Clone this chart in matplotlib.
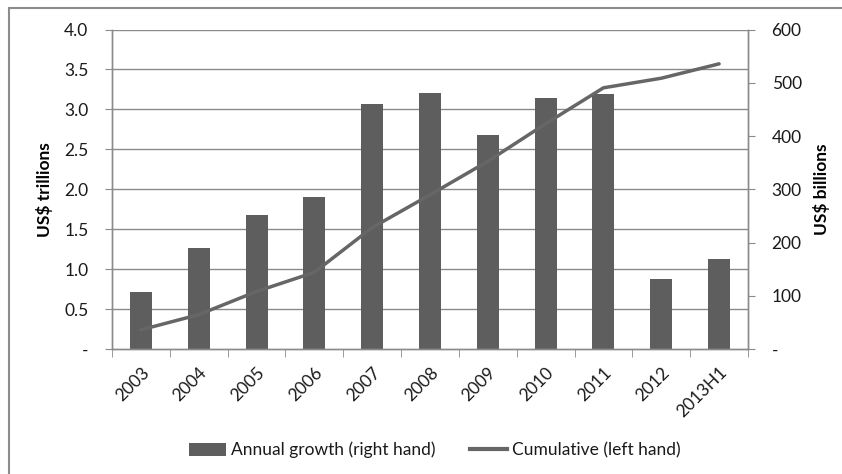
#!/usr/bin/env python3
"""
Annual growth (bars, right axis) and cumulative total (line, left axis).
"""

import matplotlib
matplotlib.use("Agg")
import matplotlib.pyplot as plt
from matplotlib.patches import Patch, Rectangle
from matplotlib.lines import Line2D
from matplotlib.ticker import FuncFormatter
import numpy as np

years = ["2003", "2004", "2005", "2006", "2007", "2008",
         "2009", "2010", "2011", "2012", "2013H1"]
annual_growth_bn = [107, 190, 252, 285, 461, 480, 401, 471, 478, 132, 169]
cumulative_tn = [0.24, 0.43, 0.72, 0.96, 1.52, 1.93, 2.35, 2.82, 3.27, 3.39, 3.57]

left_ticks = [0, 0.5, 1.0, 1.5, 2.0, 2.5, 3.0, 3.5, 4.0]
right_ticks = [0, 100, 200, 300, 400, 500, 600]

BAR_COLOR = "#5e5e5e"
LINE_COLOR = "#666666"
AXIS_GRAY = "#8a8a8a"
TEXT_COLOR = "#1a1a1a"
FONT = "Lato"
FS = 12.5

plt.rcParams["font.family"] = [FONT, "DejaVu Sans"]

fig = plt.figure(figsize=(8.42, 4.74), dpi=100)

# outer chart frame (cut off at right / bottom like the screenshot)
fig.patches.append(Rectangle((9 / 842, -0.05), 1.0, 1 - 8 / 474 + 0.05,
                             transform=fig.transFigure, fill=False,
                             edgecolor="#8c8c8c", linewidth=1.5))

ax = fig.add_axes([112 / 842, 1 - 349 / 474, (748 - 112) / 842, (349 - 29.5) / 474])
ax2 = ax.twinx()

# bars behind, line on top
ax.set_zorder(ax2.get_zorder() + 1)
ax.patch.set_visible(False)

x = np.arange(len(years))
ratio = right_ticks[-1] / left_ticks[-1]

# horizontal grid follows the left axis but sits behind the bars
for v in left_ticks[1:]:
    ax2.axhline(v * ratio, color=AXIS_GRAY, linewidth=1.0, zorder=0)

ax2.bar(x, annual_growth_bn, width=0.38, color=BAR_COLOR, zorder=2)
ax.plot(x, cumulative_tn, color=LINE_COLOR, linewidth=2.5, solid_capstyle="round")

ax.set_xlim(-0.5, len(years) - 0.5)
ax.set_ylim(left_ticks[0], left_ticks[-1])
ax2.set_ylim(right_ticks[0], right_ticks[-1])

ax.set_yticks(left_ticks)
ax.yaxis.set_major_formatter(FuncFormatter(lambda v, p: "-" if v == 0 else f"{v:.1f}"))
ax2.set_yticks(right_ticks)
ax2.yaxis.set_major_formatter(FuncFormatter(lambda v, p: "-" if v == 0 else f"{v:.0f}"))

# category labels at centres, tick marks on the boundaries
ax.set_xticks(x)
ax.set_xticklabels(years, rotation=45, ha="right", rotation_mode="anchor")
ax.set_xticks(np.arange(-0.5, len(years)), minor=True)
ax.tick_params(axis="x", which="major", length=0, pad=11, labelsize=FS, labelcolor=TEXT_COLOR)
ax.tick_params(axis="x", which="minor", length=6, color=AXIS_GRAY, direction="out")

ax.tick_params(axis="y", length=5, color=AXIS_GRAY, labelsize=FS, labelcolor=TEXT_COLOR, pad=12)
ax2.tick_params(axis="y", length=5, color=AXIS_GRAY, labelsize=FS, labelcolor=TEXT_COLOR, pad=12)
ax2.tick_params(axis="x", length=0)

for a in (ax, ax2):
    a.spines["top"].set_visible(False)
    for side in ("left", "right", "bottom"):
        a.spines[side].set_color(AXIS_GRAY)
        a.spines[side].set_linewidth(1.0)

ax.set_ylabel("US$ trillions", fontsize=FS, fontweight="bold", color="black", labelpad=8)
ax2.set_ylabel("US$ billions", fontsize=FS, fontweight="bold", color="black", labelpad=8)

handles = [Patch(facecolor=BAR_COLOR, edgecolor="none"),
           Line2D([], [], color=LINE_COLOR, linewidth=3)]
labels = ["Annual growth (right hand)", "Cumulative (left hand)"]
fig.legend(handles, labels, loc="center", bbox_to_anchor=(435 / 842, 1 - 450 / 474),
           ncol=2, frameon=False, fontsize=FS, handlelength=2.1, handleheight=0.75,
           handletextpad=0.3, columnspacing=2.0, labelcolor=TEXT_COLOR)

fig.savefig("out.png", dpi=100)
plt.close(fig)
